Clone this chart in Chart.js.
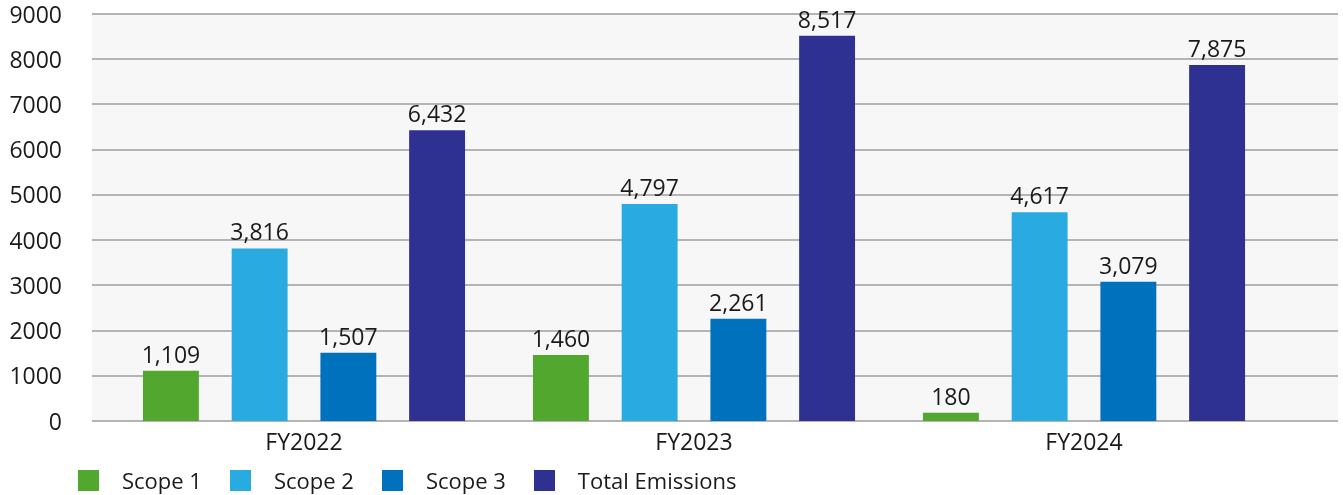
<!DOCTYPE html>
<html>
<head>
<meta charset="utf-8">
<script src="https://cdn.jsdelivr.net/npm/chart.js@4.4.1/dist/chart.umd.min.js"></script>
<style>
    html, body { margin: 0; padding: 0; background: #ffffff; }
    #wrap { position: relative; width: 1343px; height: 495px; }
    #legend {
        position: absolute; left: 78px; top: 465px;
        display: flex; align-items: center;
        font-family: 'Open Sans', sans-serif;
        font-size: 22px; color: #1a1a1a;
    }
    .legend-item { display: flex; align-items: center; margin-right: 28px; }
    .legend-box { width: 21px; height: 21px; margin-right: 23px; }
</style>
</head>
<body>
<div id="wrap">
    <canvas id="emissionsChart" width="1343" height="495"></canvas>
    <div id="legend"></div>
</div>
<script>
const FONT = "'Open Sans', sans-serif";
const TEXT_COLOR = '#1a1a1a';

const years = ['FY2022', 'FY2023', 'FY2024'];
const seriesNames = ['Scope 1', 'Scope 2', 'Scope 3', 'Total Emissions'];
const scope1 = [1109, 1460, 180];
const scope2 = [3816, 4797, 4617];
const scope3 = [1507, 2261, 3079];
const totalEmissions = [6432, 8517, 7875];
const yTicks = [0, 1000, 2000, 3000, 4000, 5000, 6000, 7000, 8000, 9000];

const COLORS = [
    '#52a72f', // Green
    '#29aae1', // Light blue
    '#0071bc', // Blue
    '#2e3192'  // Indigo
];

// Plot background + horizontal grid, a bit wider than the category area
const plotBackground = {
    id: 'plotBackground',
    beforeDatasetsDraw(chart) {
        const { ctx, chartArea, scales } = chart;
        const left = chartArea.left - 17;
        const right = chartArea.right + 59;
        ctx.save();
        ctx.fillStyle = '#f7f7f7';
        ctx.fillRect(left, chartArea.top, right - left, chartArea.bottom - chartArea.top);
        ctx.strokeStyle = '#b4b4b4';
        ctx.lineWidth = 2;
        yTicks.forEach(v => {
            const y = Math.round(scales.y.getPixelForValue(v));
            ctx.beginPath();
            ctx.moveTo(left, y);
            ctx.lineTo(right, y);
            ctx.stroke();
        });
        ctx.restore();
    }
};

// Value labels above each bar
const valueLabels = {
    id: 'valueLabels',
    afterDatasetsDraw(chart) {
        const { ctx } = chart;
        ctx.save();
        ctx.font = '23px ' + FONT;
        ctx.fillStyle = TEXT_COLOR;
        ctx.textAlign = 'center';
        ctx.textBaseline = 'alphabetic';
        chart.data.datasets.forEach((ds, i) => {
            chart.getDatasetMeta(i).data.forEach((bar, j) => {
                ctx.fillText(ds.data[j].toLocaleString('en-US'), bar.x, bar.y - 8);
            });
        });
        ctx.restore();
    }
};

const seriesData = [scope1, scope2, scope3, totalEmissions];

const ctx = document.getElementById('emissionsChart').getContext('2d');
const chart = new Chart(ctx, {
    type: 'bar',
    data: {
        labels: years,
        datasets: seriesNames.map((name, i) => ({
            label: name,
            data: seriesData[i],
            backgroundColor: COLORS[i],
            borderWidth: 0,
            categoryPercentage: 0.91,
            barPercentage: 0.63
        }))
    },
    options: {
        responsive: false,
        animation: false,
        layout: { padding: { top: 14, right: 64, bottom: 0, left: 0 } },
        scales: {
            x: {
                grid: { display: false, drawTicks: false },
                border: { display: false },
                ticks: {
                    color: TEXT_COLOR,
                    font: { family: FONT, size: 23 },
                    padding: 9
                },
                afterFit(scale) { scale.height = 74; }
            },
            y: {
                min: 0,
                max: 9000,
                grid: { display: false, drawTicks: false },
                border: { display: false },
                ticks: {
                    stepSize: 1000,
                    color: TEXT_COLOR,
                    font: { family: FONT, size: 23 },
                    padding: 47,
                    labelOffset: 2,
                    callback: v => String(v)
                },
                afterFit(scale) {
                    scale.width = 109;
                    // tick padding would otherwise push the plot down
                    scale.paddingTop = 0;
                    scale.paddingBottom = 0;
                }
            }
        },
        plugins: {
            legend: { display: false },
            tooltip: { enabled: false }
        }
    },
    plugins: [plotBackground, valueLabels]
});

// HTML legend
let legHtml = '';
seriesNames.forEach((name, i) => {
    legHtml += `
        <div class="legend-item">
            <span class="legend-box" style="background:${COLORS[i]}"></span>
            <span>${name}</span>
        </div>`;
});
document.getElementById('legend').innerHTML = legHtml;
</script>
</body>
</html>
